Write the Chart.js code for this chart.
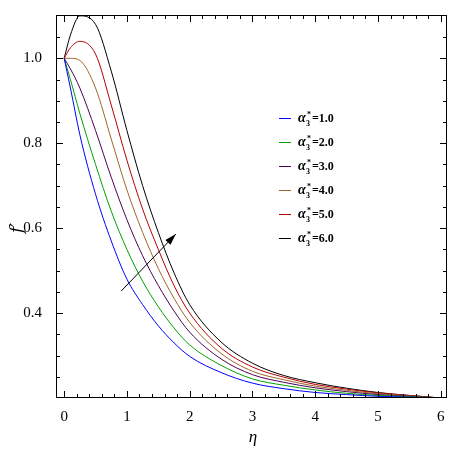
<!DOCTYPE html>
<html><head><meta charset="utf-8">
<script src="https://cdn.jsdelivr.net/npm/chart.js@4/dist/chart.umd.min.js"></script>
<style>html,body{margin:0;padding:0;background:#fff}#w{width:454px;height:454px}</style>
</head><body><div id="w"><canvas id="c"></canvas></div>
<script>
const etaValues = [0,0.1,0.25,0.5,0.75,1,1.25,1.5,1.75,2,2.5,3,3.5,4,4.5,5,5.5,6];
const series1 = [1.0,0.93,0.82,0.68,0.57,0.48,0.42,0.37,0.33,0.298,0.26,0.235,0.222,0.213,0.208,0.204,0.202,0.2];
const series2 = [1.0,0.95,0.87,0.75,0.64,0.55,0.475,0.415,0.365,0.325,0.277,0.245,0.23,0.219,0.211,0.206,0.203,0.2];
const series3 = [1.0,0.975,0.93,0.83,0.72,0.62,0.535,0.465,0.405,0.355,0.292,0.255,0.237,0.224,0.215,0.208,0.204,0.2];
const series4 = [1.0,1.0,0.995,0.93,0.81,0.69,0.59,0.505,0.435,0.378,0.305,0.263,0.243,0.228,0.218,0.21,0.205,0.2];
const series5 = [1.0,1.025,1.04,1.01,0.89,0.76,0.645,0.55,0.465,0.40,0.318,0.273,0.249,0.232,0.221,0.212,0.206,0.2];
const series6 = [1.0,1.055,1.10,1.08,0.97,0.83,0.70,0.59,0.495,0.42,0.332,0.282,0.253,0.236,0.223,0.213,0.206,0.2];
const legendLabels = ["1.0","2.0","3.0","4.0","5.0","6.0"];
const colors = ["#0000ff","#00a000","#4b0055","#a0642a","#b40000","#000000"];
const xTicks = [0,1,2,3,4,5,6];
const yTicks = [0.4,0.6,0.8,1.0];
const arrowFrom = [0.91,0.452], arrowTo = [1.78,0.586];
const all = [series1,series2,series3,series4,series5,series6];
const datasets = all.map((s,i)=>({data:s.map((v,j)=>({x:etaValues[j],y:v})),borderColor:colors[i],borderWidth:1,pointRadius:0,cubicInterpolationMode:'monotone',fill:false}));
const F = '"Liberation Serif", "DejaVu Serif", serif';
const deco = {id:'deco',afterDraw(ch){
  const c=ch.ctx,a=ch.chartArea,xs=ch.scales.x,ys=ch.scales.y;
  c.save();c.strokeStyle='#000';c.lineWidth=1;
  c.strokeRect(a.left+0.5,a.top+0.5,a.right-a.left-1,a.bottom-a.top-1);
  c.beginPath();
  for(let v=0;v<=6.001;v+=0.2){const p=Math.round(xs.getPixelForValue(v))+0.5;const L=(Math.abs(v-Math.round(v))<1e-6)?7:4;
    c.moveTo(p,a.bottom);c.lineTo(p,a.bottom-L);c.moveTo(p,a.top);c.lineTo(p,a.top+L);}
  for(let v=0.25;v<=1.1;v+=0.05){const p=Math.round(ys.getPixelForValue(v))+0.5;const L=(Math.abs(v*5-Math.round(v*5))<1e-6)?7:4;
    c.moveTo(a.left,p);c.lineTo(a.left+L,p);c.moveTo(a.right,p);c.lineTo(a.right-L,p);}
  c.stroke();
  const x1=xs.getPixelForValue(arrowFrom[0]),y1=ys.getPixelForValue(arrowFrom[1]);
  const x2=xs.getPixelForValue(arrowTo[0]),y2=ys.getPixelForValue(arrowTo[1]);
  c.beginPath();c.moveTo(x1,y1);c.lineTo(x2,y2);c.stroke();
  const ang=Math.atan2(y2-y1,x2-x1);c.fillStyle='#000';c.beginPath();c.moveTo(x2,y2);
  c.lineTo(x2-12*Math.cos(ang-0.3),y2-12*Math.sin(ang-0.3));c.lineTo(x2-12*Math.cos(ang+0.3),y2-12*Math.sin(ang+0.3));c.closePath();c.fill();
  legendLabels.forEach((t,i)=>{const y=118+i*24;c.strokeStyle=colors[i];c.beginPath();c.moveTo(279,y+0.5);c.lineTo(291,y+0.5);c.stroke();
    c.fillStyle='#000';c.textBaseline='alphabetic';c.textAlign='left';c.font='italic bold 14px '+F;c.fillText('α',298,y+4);
    c.font='bold 8px '+F;c.fillText('*',307,y-1);c.fillText('3',306,y+8);
    c.font='bold 12px '+F;c.fillText('='+t,312,y+4);});
  c.font='italic 17px '+F;c.textAlign='center';c.fillText('η',253,442);
  c.save();c.translate(22,228);c.rotate(-Math.PI/2);c.font='italic 17px "DejaVu Serif", serif';c.fillText("f\u2032",0,0);c.restore();
  c.restore();}};
new Chart(document.getElementById('c'),{type:'line',data:{datasets},plugins:[deco],
 options:{responsive:true,maintainAspectRatio:false,animation:false,layout:{padding:{top:-15,right:7,left:0,bottom:0}},
 plugins:{legend:{display:false},tooltip:{enabled:false}},
 scales:{
  x:{type:'linear',min:-0.13,max:6.1,afterFit(s){s.height=56},afterBuildTicks(s){s.ticks=xTicks.map(v=>({value:v}))},
     grid:{display:false},border:{display:false},ticks:{color:'#000',font:{family:F,size:15},padding:2,maxRotation:0,callback:v=>String(v)}},
  y:{type:'linear',min:0.2,max:1.102,afterFit(s){s.width=56},afterBuildTicks(s){s.ticks=yTicks.map(v=>({value:v}))},
     grid:{display:false},border:{display:false},ticks:{color:'#000',font:{family:F,size:15},padding:6,callback:v=>v.toFixed(1)}}
 }}});
</script></body></html>
